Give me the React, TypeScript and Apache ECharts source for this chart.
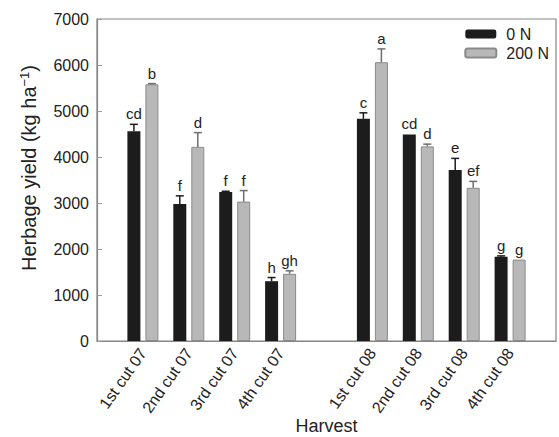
import React, { useEffect, useRef } from "react";
import * as echarts from "echarts";

// ---- data ----
const harvests = ["1st cut 07", "2nd cut 07", "3rd cut 07", "4th cut 07", "1st cut 08", "2nd cut 08", "3rd cut 08", "4th cut 08"];
// axis slots (null = empty spacer position)
const slots: (number | null)[] = [null, 0, 1, 2, 3, null, 4, 5, 6, 7, null];
const yield0N = [4560, 2980, 3240, 1300, 4830, 4490, 3720, 1830];
const err0N = [150, 175, 15, 80, 130, 0, 250, 20];
const yield200N = [5580, 4220, 3030, 1460, 6060, 4230, 3330, 1770];
const err200N = [15, 310, 240, 65, 290, 50, 140, 0];
const letters0N = ["cd", "f", "f", "h", "c", "cd", "e", "g"];
const letters200N = ["b", "d", "f", "gh", "a", "d", "ef", "g"];
const yMin = 0;
const yMax = 7000;
const yInterval = 1000;

const FONT = "Liberation Sans, Arial, Helvetica, sans-serif";
const BAR_W = 13;
const BAR_GAP_PX = 5;

export default function App() {
  const ref = useRef<HTMLDivElement>(null);
  useEffect(() => {
    if (!ref.current) return;
    const chart = echarts.init(ref.current, undefined, { renderer: "svg" });
    const categories = slots.map((s) => (s === null ? "" : harvests[s]));
    const slotOf = (i: number) => slots.indexOf(i);
    const barData = (vals: number[]) => slots.map((s) => (s === null ? "-" : vals[s]));
    const halfOffset = (BAR_W + BAR_GAP_PX) / 2;

    const errSeries = (vals: number[], errs: number[], letters: string[], dir: number, color: string) => ({
      type: "custom",
      z: 5,
      silent: true,
      encode: { x: 0, y: 1 },
      data: vals.map((v, i) => [slotOf(i), v, errs[i]]),
      renderItem: (params: any, api: any) => {
        const idx = api.value(0);
        const v = api.value(1);
        const e = api.value(2);
        const base = api.coord([idx, v]);
        const top = api.coord([idx, v + e]);
        const x = base[0] + dir * halfOffset;
        const children: any[] = [];
        if (e > 0) {
          children.push({
            type: "line",
            shape: { x1: x, y1: base[1], x2: x, y2: top[1] },
            style: { stroke: color, lineWidth: 1.5 },
          });
          children.push({
            type: "line",
            shape: { x1: x - 4, y1: top[1], x2: x + 4, y2: top[1] },
            style: { stroke: color, lineWidth: 1.5 },
          });
        }
        children.push({
          type: "text",
          x: x,
          y: top[1] - 3,
          style: {
            text: letters[params.dataIndex],
            align: "center",
            verticalAlign: "bottom",
            fontSize: 15,
            fontFamily: FONT,
            fill: "#222",
          },
        });
        return { type: "group", children };
      },
    });

    chart.setOption({
      animation: false,
      backgroundColor: "#fff",
      grid: {
        left: 97,
        right: 3,
        top: 19,
        bottom: 96,
        show: true,
        borderColor: "#858585",
        borderWidth: 1.2,
        containLabel: false,
        outerBoundsMode: "none",
      },
      legend: {
        orient: "vertical",
        right: 5,
        top: 21,
        itemWidth: 31,
        itemHeight: 9,
        itemGap: 3,
        data: ["0 N", "200 N"],
        textStyle: { fontSize: 16, fontFamily: FONT, color: "#222", padding: [0, 0, 0, 5] },
      },
      xAxis: {
        type: "category",
        data: categories,
        boundaryGap: false,
        axisLine: { lineStyle: { color: "#858585", width: 1.2 } },
        axisTick: { show: false },
        axisLabel: {
          interval: 0,
          rotate: 55,
          fontSize: 16,
          fontFamily: FONT,
          color: "#222",
          margin: 9,
        },
        name: "Harvest",
        nameLocation: "middle",
        nameGap: 76,
        nameMoveOverlap: false,
        nameTextStyle: { fontSize: 18, fontFamily: FONT, color: "#222" },
      },
      yAxis: {
        type: "value",
        min: yMin,
        max: yMax,
        interval: yInterval,
        splitLine: { show: false },
        axisLine: { show: true, lineStyle: { color: "#858585", width: 1.2 } },
        axisTick: { show: true, inside: true, length: 5, lineStyle: { color: "#999" } },
        axisLabel: {
          fontSize: 16,
          fontFamily: FONT,
          color: "#222",
          margin: 8,
          formatter: (v: number) => String(v),
        },
        name: "Herbage yield (kg ha{sup|−1})",
        nameLocation: "middle",
        nameGap: 58,
        nameMoveOverlap: false,
        nameTextStyle: {
          fontSize: 20,
          fontFamily: FONT,
          color: "#222",
          padding: [0, 0, 0, 24],
          rich: {
            sup: { fontSize: 13, fontFamily: FONT, color: "#222", verticalAlign: "top", padding: [0, 0, 8, 0] },
          },
        },
      },
      series: [
        {
          name: "0 N",
          type: "bar",
          data: barData(yield0N),
          barWidth: BAR_W,
          barGap: `${(BAR_GAP_PX / BAR_W) * 100}%`,
          itemStyle: { color: "#1c1c1c" },
        },
        {
          name: "200 N",
          type: "bar",
          data: barData(yield200N),
          barWidth: BAR_W,
          barGap: `${(BAR_GAP_PX / BAR_W) * 100}%`,
          itemStyle: { color: "#b8b8b8", borderColor: "#8a8a8a", borderWidth: 1 },
        },
        errSeries(yield0N, err0N, letters0N, -1, "#1c1c1c"),
        errSeries(yield200N, err200N, letters200N, 1, "#6e6e6e"),
      ],
    });
    return () => chart.dispose();
  }, []);
  return (
    <div
      ref={ref}
      style={{ position: "absolute", left: 0, top: 0, width: 559, height: 437, background: "#fff" }}
    />
  );
}
